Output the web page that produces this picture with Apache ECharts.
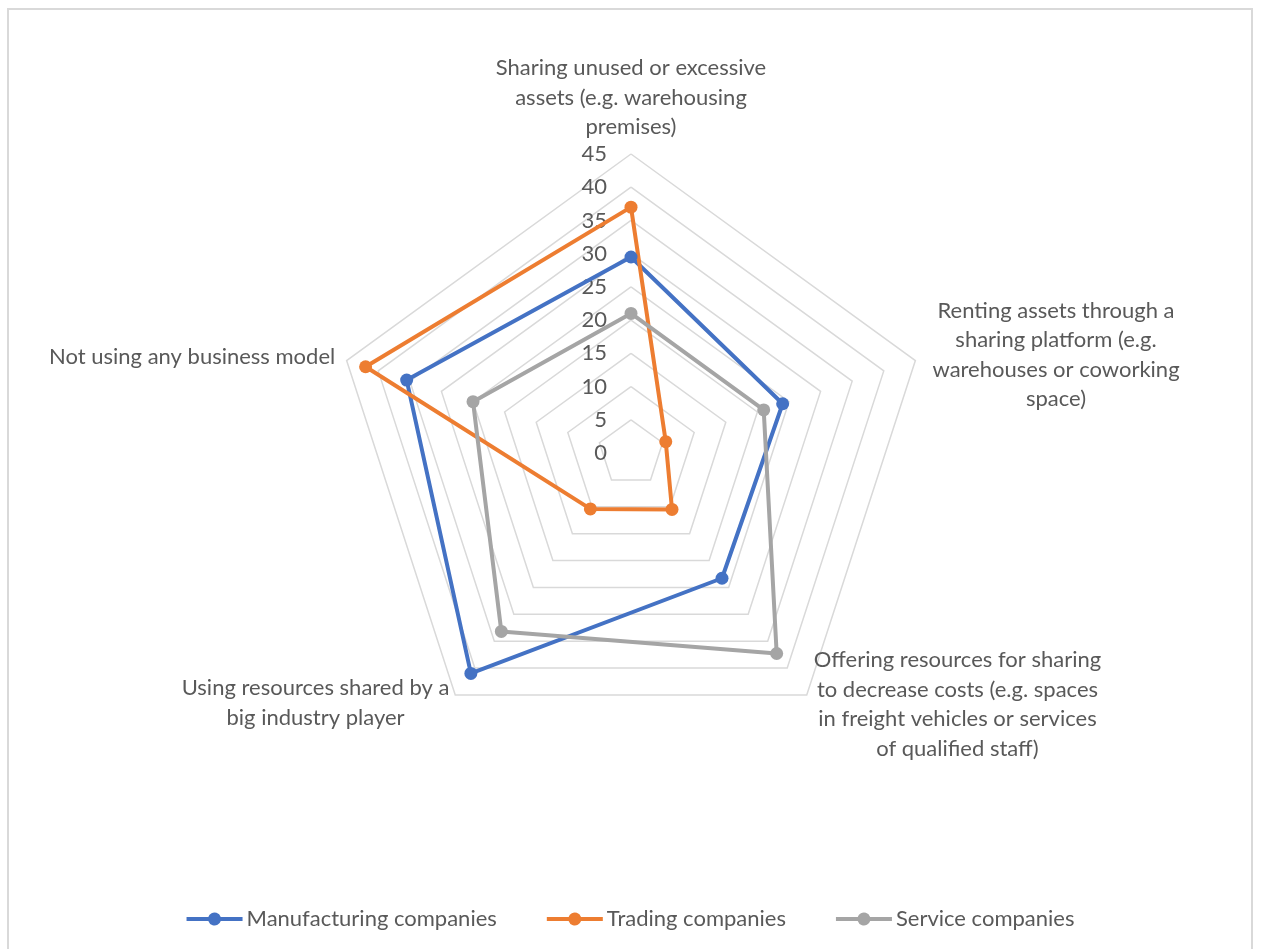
<!DOCTYPE html>
<html>
<head>
<meta charset="utf-8">
<script src="https://cdn.jsdelivr.net/npm/echarts@6/dist/echarts.min.js"></script>
<style>
  html, body { margin: 0; padding: 0; background: #ffffff; }
  #wrap { position: relative; width: 1261px; height: 949px; overflow: hidden; }
  #frame { position: absolute; left: 7px; top: 8px; width: 1246px; height: 980px;
           border: 2px solid #d9d9d9; box-sizing: border-box; }
  #chart { position: absolute; left: 0; top: 0; width: 1261px; height: 949px; }
</style>
</head>
<body>
<div id="wrap">
  <div id="frame"></div>
  <div id="chart"></div>
</div>
<script>
// Business-model axes, listed counter-clockwise from the top spoke
const categories = [
  'Sharing unused or excessive\nassets (e.g. warehousing\npremises)',
  'Not using any business model',
  'Using resources shared by a\nbig industry player',
  'Offering resources for sharing\nto decrease costs (e.g. spaces\nin freight vehicles or services\nof qualified staff)',
  'Renting assets through a\nsharing platform (e.g.\nwarehouses or coworking\nspace)'
];

const seriesNames = ['Manufacturing companies', 'Trading companies', 'Service companies'];

// Share of companies per business model (same order as categories)
const manufacturing = [29.5, 35.5, 41, 23.3, 24];
const trading = [37, 42, 10.4, 10.5, 5.5];
const service = [21, 25, 33.2, 37.3, 21];

// Scale ticks shown along the top spoke
const tickLabels = ['0', '5', '10', '15', '20', '25', '30', '35', '40', '45'];
const scaleMax = 45;
const scaleStep = 5;

const colors = ['#4472C4', '#ED7D31', '#A5A5A5'];
const textColor = '#595959';
const fontFamily = 'Lato, "Open Sans", sans-serif';
const fontSize = 22;

const cx = 631, cy = 453, radius = 299;

// Per-spoke distance between the outer ring and its name
const nameGaps = [12, 12, 10, 12, 18];

const legendIcon = 'path://M0,5 H21.8 A6.5,6.5 0 0 1 34.2,5 H56 V9 H34.2 A6.5,6.5 0 0 1 21.8,9 H0 Z';

const chart = echarts.init(document.getElementById('chart'), null, { renderer: 'canvas' });

const values = [manufacturing, trading, service];

chart.setOption({
  animation: false,
  backgroundColor: 'transparent',
  color: colors,
  textStyle: { fontFamily: fontFamily },
  legend: {
    data: seriesNames,
    left: 'center',
    top: 903,
    itemWidth: 56,
    itemHeight: 14,
    itemGap: 50,
    icon: legendIcon,
    textStyle: { fontSize: fontSize, color: textColor, fontFamily: fontFamily, padding: [0, 0, 0, -1] }
  },
  radar: {
    center: [cx, cy],
    radius: radius,
    startAngle: 90,
    shape: 'polygon',
    splitNumber: scaleMax / scaleStep,
    axisName: {
      color: textColor,
      fontSize: fontSize,
      fontFamily: fontFamily,
      formatter: function (name) {
        return name.split('\n').map(function (l) { return '{c|' + l + '}'; }).join('\n');
      },
      rich: {
        c: { align: 'center', fontSize: fontSize, lineHeight: 29.5, color: textColor, fontFamily: fontFamily }
      }
    },
    nameGap: 12,
    indicator: categories.map(function (c, i) {
      return { name: c, min: 0, max: scaleMax, nameGap: nameGaps[i] };
    }),
    axisLine: { show: false },
    axisTick: { show: false },
    axisLabel: { show: false },
    splitArea: { show: false },
    splitLine: { lineStyle: { color: '#d9d9d9', width: 1.5 } }
  },
  // Value scale drawn beside the top spoke
  grid: { left: cx, top: cy - radius, height: radius, width: 10, containLabel: false },
  xAxis: { type: 'value', show: false, min: 0, max: 1 },
  yAxis: {
    type: 'value',
    min: 0,
    max: scaleMax,
    interval: scaleStep,
    axisLine: { show: false },
    axisTick: { show: false },
    splitLine: { show: false },
    axisLabel: {
      margin: 24,
      fontSize: fontSize,
      color: textColor,
      fontFamily: fontFamily,
      formatter: function (v) { return tickLabels[Math.round(v / scaleStep)]; }
    }
  },
  series: [{
    type: 'radar',
    symbol: 'circle',
    symbolSize: 13,
    lineStyle: { width: 4 },
    data: seriesNames.map(function (n, i) {
      return {
        name: n,
        value: values[i],
        itemStyle: { color: colors[i] },
        lineStyle: { color: colors[i], width: 4 }
      };
    })
  }]
});
</script>
</body>
</html>
